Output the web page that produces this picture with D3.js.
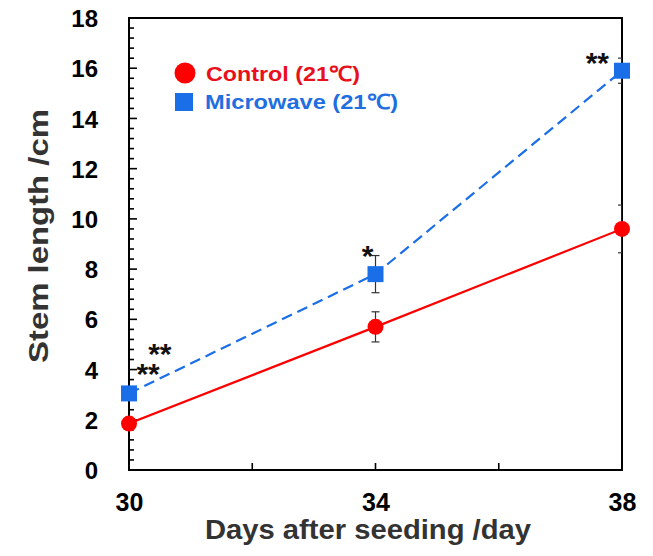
<!DOCTYPE html>
<html>
<head>
<meta charset="utf-8">
<script src="https://cdn.jsdelivr.net/npm/d3@7"></script>
<style>
  body { margin: 0; background: #fff; }
  text { font-family: "Liberation Sans", Arial, sans-serif; font-weight: bold; }
</style>
</head>
<body>
<div id="chart"></div>
<script>
(function() {
    // Data
    const days = [30, 34, 38];
    const controlMean = [1.85, 5.7, 9.6];
    const controlErr = [0.1, 0.6, 0.95];
    const microMean = [3.05, 7.8, 15.9];
    const microErr = [0.15, 0.74, 0.5];
    const yTicks = [0, 2, 4, 6, 8, 10, 12, 14, 16, 18];
    const xTicks = [30, 34, 38];
    // significance marks: [day, value position, label]
    const marks = [
        [30.31, 4.12, "**"],
        [30.5, 4.92, "**"],
        [33.87, 8.8, "*"],
        [37.6, 16.5, "**"]
    ];

    const red = "#ff0000";
    const blue = "#1a6fe8";

    const margin = {top: 18, right: 31, bottom: 86, left: 129};
    const width = 653 - margin.left - margin.right;
    const height = 556 - margin.top - margin.bottom;

    const svg = d3.select("#chart")
        .append("svg")
        .attr("width", 653)
        .attr("height", 556);

    const g = svg.append("g")
        .attr("transform", `translate(${margin.left}, ${margin.top})`);

    const x = d3.scaleLinear().domain([30, 38]).range([0, width]);
    const y = d3.scaleLinear().domain([0, 18]).range([height, 0]);

    // Clip for error caps at the frame edge
    svg.append("defs").append("clipPath")
        .attr("id", "plot-clip")
        .append("rect")
        .attr("width", width)
        .attr("height", height);

    // Minor y ticks every 0.4, major every 2 (pointing inward)
    const yMinor = d3.range(0, 18.01, 0.4).map(v => Math.round(v * 10) / 10);
    g.append("g")
        .selectAll("line")
        .data(yMinor)
        .enter()
        .append("line")
        .attr("x1", 0)
        .attr("x2", d => Math.abs(d / 2 - Math.round(d / 2)) < 1e-6 ? 8 : 5)
        .attr("y1", d => y(d))
        .attr("y2", d => y(d))
        .attr("stroke", "#000")
        .attr("stroke-width", 1.6);

    // x ticks every 2 days (pointing up)
    g.append("g")
        .selectAll("line")
        .data(d3.range(30, 38.01, 2))
        .enter()
        .append("line")
        .attr("x1", d => x(d))
        .attr("x2", d => x(d))
        .attr("y1", height)
        .attr("y2", height - 7)
        .attr("stroke", "#000")
        .attr("stroke-width", 1.6);

    // Frame
    g.append("rect")
        .attr("width", width)
        .attr("height", height)
        .attr("fill", "none")
        .attr("stroke", "#000")
        .attr("stroke-width", 2);

    // Tick labels
    const yAxis = d3.axisLeft(y).tickValues(yTicks).tickSize(0).tickPadding(31);
    const yG = g.append("g").call(yAxis);
    yG.select(".domain").remove();
    yG.selectAll("text")
        .attr("font-size", "24px")
        .attr("font-family", "Liberation Sans, Arial, sans-serif")
        .attr("font-weight", "bold")
        .attr("fill", "#000")
        .attr("dy", "0.36em");

    const xAxis = d3.axisBottom(x).tickValues(xTicks).tickSize(0).tickPadding(23);
    const xG = g.append("g").attr("transform", `translate(0, ${height})`).call(xAxis);
    xG.select(".domain").remove();
    xG.selectAll("text")
        .attr("font-size", "25px")
        .attr("font-family", "Liberation Sans, Arial, sans-serif")
        .attr("font-weight", "bold")
        .attr("fill", "#000");

    // Axis titles
    svg.append("text")
        .attr("x", 368)
        .attr("y", 539)
        .attr("text-anchor", "middle")
        .attr("font-size", "27px")
        .attr("fill", "#333")
        .attr("textLength", 326)
        .attr("lengthAdjust", "spacingAndGlyphs")
        .text("Days after seeding /day");

    svg.append("text")
        .attr("transform", "translate(48, 236) rotate(-90)")
        .attr("text-anchor", "middle")
        .attr("font-size", "28px")
        .attr("fill", "#333")
        .attr("textLength", 254)
        .attr("lengthAdjust", "spacingAndGlyphs")
        .text("Stem length /cm");

    const series = [
        {mean: controlMean, err: controlErr, color: red, dash: null, shape: "circle"},
        {mean: microMean, err: microErr, color: blue, dash: "11,6", shape: "square"}
    ];

    const line = d3.line()
        .x(d => x(d.day))
        .y(d => y(d.v));

    const plot = g.append("g").attr("clip-path", "url(#plot-clip)");

    series.forEach(s => {
        const pts = days.map((d, i) => ({day: d, v: s.mean[i], e: s.err[i]}));

        plot.append("path")
            .datum(pts)
            .attr("d", line)
            .attr("fill", "none")
            .attr("stroke", s.color)
            .attr("stroke-width", 2.2)
            .attr("stroke-dasharray", s.dash);

        const eb = plot.append("g").selectAll("g")
            .data(pts)
            .enter()
            .append("g")
            .attr("stroke", "#333")
            .attr("stroke-width", 1.2);
        eb.append("line")
            .attr("x1", d => x(d.day)).attr("x2", d => x(d.day))
            .attr("y1", d => y(d.v - d.e)).attr("y2", d => y(d.v + d.e));
        eb.append("line")
            .attr("x1", d => x(d.day) - 4).attr("x2", d => x(d.day) + 4)
            .attr("y1", d => y(d.v + d.e)).attr("y2", d => y(d.v + d.e));
        eb.append("line")
            .attr("x1", d => x(d.day) - 4).attr("x2", d => x(d.day) + 4)
            .attr("y1", d => y(d.v - d.e)).attr("y2", d => y(d.v - d.e));
    });

    // Markers drawn on top (not clipped)
    series.forEach(s => {
        const pts = days.map((d, i) => ({day: d, v: s.mean[i]}));
        if (s.shape === "circle") {
            g.append("g").selectAll("circle")
                .data(pts)
                .enter()
                .append("circle")
                .attr("cx", d => x(d.day))
                .attr("cy", d => y(d.v))
                .attr("r", 8)
                .attr("fill", s.color);
        } else {
            g.append("g").selectAll("rect")
                .data(pts)
                .enter()
                .append("rect")
                .attr("x", d => x(d.day) - 8)
                .attr("y", d => y(d.v) - 8)
                .attr("width", 16)
                .attr("height", 16)
                .attr("fill", s.color);
        }
    });

    // Significance asterisks
    g.append("g").selectAll("text")
        .data(marks)
        .enter()
        .append("text")
        .attr("x", d => x(d[0]))
        .attr("y", d => y(d[1]))
        .attr("text-anchor", "middle")
        .attr("font-size", "30px")
        .attr("fill", "#111")
        .attr("dy", "0.58em")
        .text(d => d[2]);

    // Legend
    const legend = svg.append("g");
    legend.append("circle")
        .attr("cx", 185).attr("cy", 73).attr("r", 10.5)
        .attr("fill", red);
    legend.append("text")
        .attr("x", 206).attr("y", 81)
        .attr("font-size", "21px")
        .attr("fill", "#e8101a")
        .attr("textLength", 154)
        .attr("lengthAdjust", "spacingAndGlyphs")
        .text("Control (21℃)");
    legend.append("rect")
        .attr("x", 175).attr("y", 93).attr("width", 18).attr("height", 18)
        .attr("fill", blue);
    legend.append("text")
        .attr("x", 205).attr("y", 109)
        .attr("font-size", "21px")
        .attr("fill", "#1f6fe0")
        .attr("textLength", 193)
        .attr("lengthAdjust", "spacingAndGlyphs")
        .text("Microwave (21℃)");
})();
</script>
</body>
</html>
